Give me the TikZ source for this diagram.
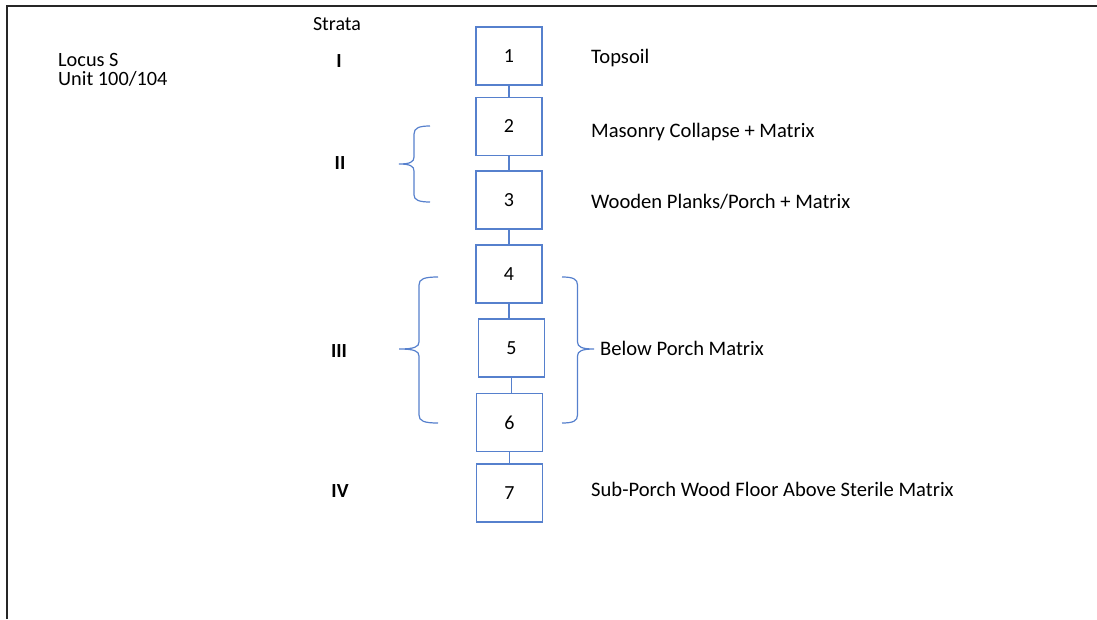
\documentclass[tikz,border=0pt]{standalone}
\usepackage{fontspec}
\setmainfont{Carlito}
\definecolor{boxblue}{RGB}{86,128,205}
\tikzset{
  unitbox/.style={draw=boxblue, line width=1.2pt, minimum width=66pt, minimum height=58pt, inner sep=0pt, font=\fontsize{20}{22}\selectfont},
  link/.style={draw=boxblue, line width=1.2pt},
  brace/.style={draw=boxblue, line width=1.2pt},
  desc/.style={anchor=base west, inner sep=0pt, font=\fontsize{20.6}{24}\selectfont},
  headline/.style={anchor=base west, inner sep=0pt, text height=13pt, text depth=1pt, font=\fontsize{20.3}{24}\selectfont},
  stratum/.style={anchor=base, inner sep=0pt, font=\fontsize{20}{24}\selectfont\bfseries},
}
\begin{document}
\begin{tikzpicture}[x=1pt,y=-1pt]
\useasboundingbox (0,0) rectangle (1097,619);
% frame (only top and left visible)
\draw[line width=2.2pt, black!85] (7,619) -- (7,6) -- (1097,6);

% header texts
\node[headline] (locus) at (58,66.3) {Locus S};
\node[headline] (unit) at (58,85) {Unit 100/104};
\node[stratum] (strata) at (337,30.7) {\mdseries Strata};
\node[stratum] (sI) at (339,67.3) {I};
\node[stratum] (sII) at (340,169.3) {II};
\node[stratum] (sIII) at (339,357) {III};
\node[stratum] (sIV) at (340,497) {IV};

% boxes
\node[unitbox] (b1) at (509,56) {1};
\node[unitbox] (b2) at (509,126.5) {2};
\node[unitbox] (b3) at (509,200) {3};
\node[unitbox] (b4) at (509,274) {4};
\node[unitbox] (b5) at (511.5,348) {5};
\node[unitbox] (b6) at (509.5,422.5) {6};
\node[unitbox] (b7) at (509.5,493) {7};

% connectors
\draw[link] (b1.south) -- (b2.north);
\draw[link] (b2.south) -- (b3.north);
\draw[link] (b3.south) -- (b4.north);
\draw[link] (b4.south) -- (b4.south |- b5.north);
\draw[link] (b5.south) -- (b5.south |- b6.north);
\draw[link] (b6.south) -- (b6.south |- b7.north);

% descriptions
\node[desc] (t1) at (591,63.3) {Topsoil};
\node[desc] (t2) at (591,137.6) {Masonry Collapse + Matrix};
\node[desc] (t3) at (591,208) {Wooden Planks/Porch + Matrix};
\node[desc] (t456) at (600,355.2) {Below Porch Matrix};
\node[desc] (t7) at (591,496) {Sub-Porch Wood Floor Above Sterile Matrix};

% brace for II
\draw[brace] (430,126) .. controls (419,126) and (414,128) .. (414,134) -- (414,157)
  .. controls (414,162) and (410,164) .. (399,164)
  .. controls (410,164) and (414,166) .. (414,171) -- (414,195)
  .. controls (414,200) and (419,202) .. (430,202);
% brace for III
\draw[brace] (438,277) .. controls (424,277) and (419,279) .. (419,285) -- (419,342)
  .. controls (419,347) and (414,349) .. (399,349)
  .. controls (414,349) and (419,351) .. (419,356) -- (419,415)
  .. controls (419,421) and (424,423) .. (438,423);
% brace for 4-6
\draw[brace] (562,277) .. controls (573,277) and (577.5,279) .. (577.5,285) -- (577.5,342)
  .. controls (577.5,347) and (582,349) .. (594,349)
  .. controls (582,349) and (577.5,351) .. (577.5,356) -- (577.5,415)
  .. controls (577.5,421) and (573,423) .. (562,423);
\end{tikzpicture}
\end{document}
